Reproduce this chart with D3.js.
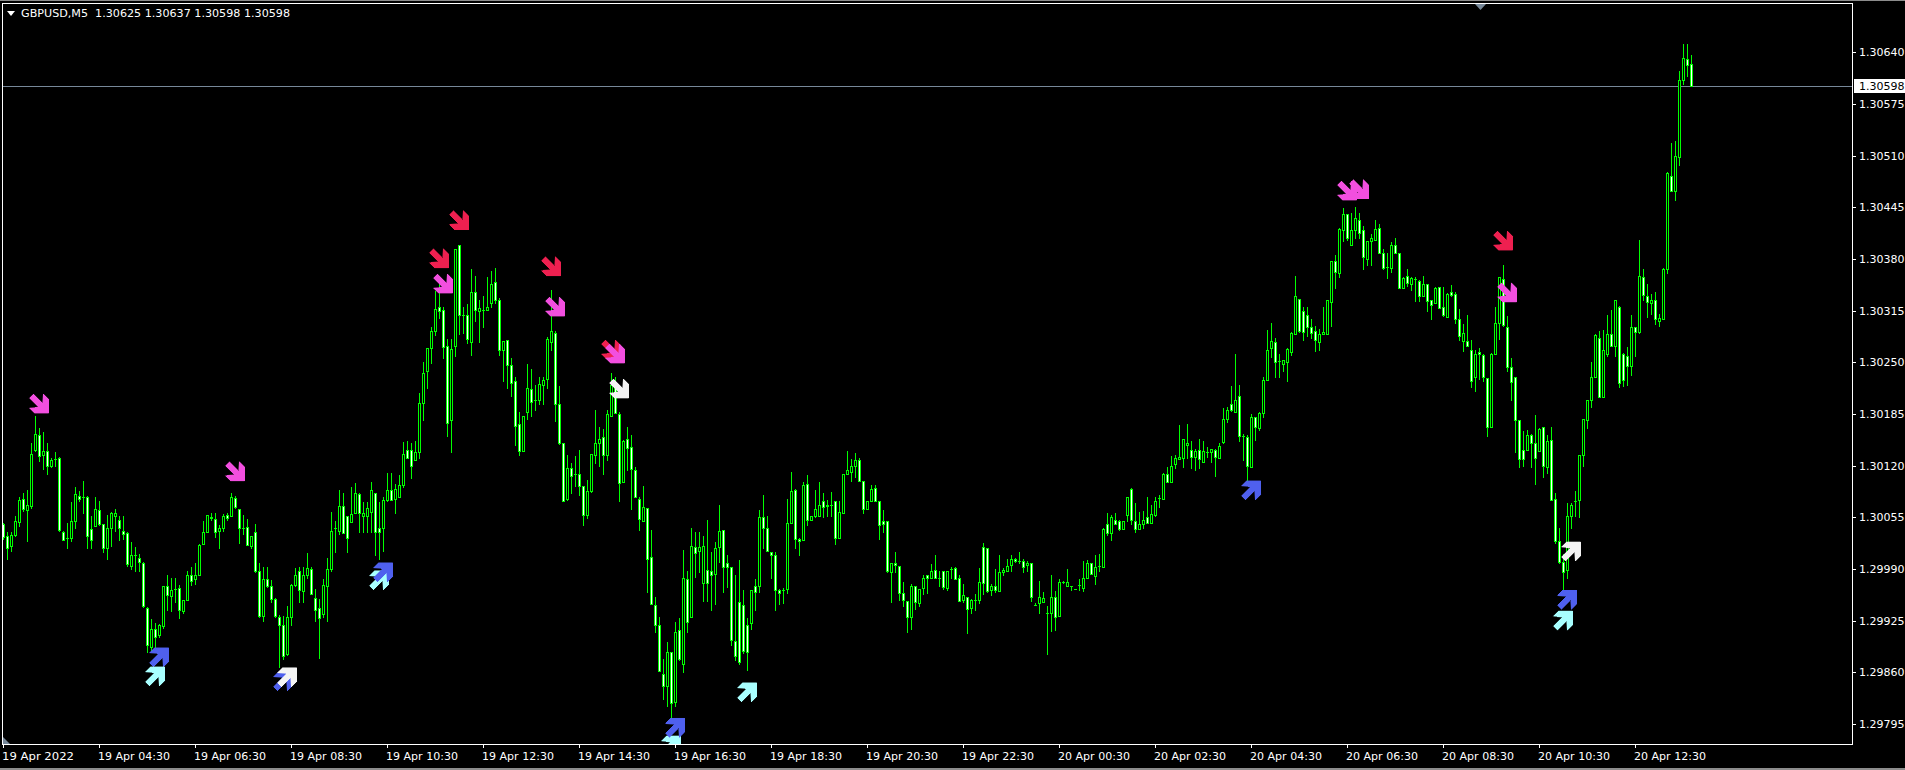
<!DOCTYPE html>
<html><head><meta charset="utf-8">
<script src="https://cdnjs.cloudflare.com/ajax/libs/d3/7.8.5/d3.min.js"></script>
<style>html,body{margin:0;padding:0;background:#000;overflow:hidden}svg{display:block}text{font-family:"DejaVu Sans",sans-serif;font-size:11px;fill:#fff}</style>
</head><body><svg id="c" width="1905" height="770"></svg>
<script>
// Prices are in 0.00001 units above basePrice (1.30000).
const basePrice = 130000;
const opens = [
46,31,19,33,49,78,64,69,140,159,
133,138,120,128,130,36,29,29,51,82,
81,81,40,44,64,46,17,41,57,52,
38,35,-6,8,4,-2,-59,-108,-85,-93,
-82,-32,-44,-35,-34,-63,-49,-17,-23,-17,
21,36,56,53,38,41,58,57,79,66,
42,43,19,36,-12,-69,-22,-31,-48,-70,
-80,-117,-70,-30,-12,-38,-18,-10,-47,-59,
-67,-31,-10,41,38,69,57,49,61,84,
57,57,62,86,41,41,77,90,78,81,
96,140,140,127,137,199,239,268,290,320,
316,271,178,270,398,310,310,276,338,314,
316,316,325,351,329,266,278,247,226,172,
139,188,217,202,202,221,229,276,287,198,
148,78,117,109,110,95,58,88,133,149,
156,133,183,219,185,100,153,143,114,78,
50,67,5,-55,-80,-142,-157,-115,-177,-87,
-130,-23,-70,18,13,-28,-11,-12,-16,18,
39,-3,-7,-100,-52,-55,-81,-78,-31,-31,
55,41,11,7,-36,-36,-35,48,89,28,
27,97,52,57,57,75,71,71,75,29,
60,110,112,120,127,101,65,75,92,75,
50,50,-14,-2,-6,-40,-50,-71,-31,-53,
-34,-18,-21,-11,-21,-13,-34,-10,-9,-21,
-49,-45,-59,-49,-49,18,16,-36,-31,-38,
-14,-13,-5,3,0,0,-5,-2,-55,-53,
-51,-65,-65,-45,-69,-26,-31,-31,-35,-30,
-34,-21,-3,-19,-6,-7,46,35,52,50,
40,58,91,50,40,47,55,48,58,79,
78,110,99,122,128,130,146,140,131,140,
125,137,137,140,130,150,179,197,187,208,
157,156,118,181,167,186,228,268,275,252,
248,250,263,285,330,315,310,294,289,276,
286,286,326,378,362,417,436,398,416,429,
416,380,403,404,419,388,370,369,397,387,
344,359,348,355,352,334,348,329,325,345,
320,307,338,336,305,277,277,266,232,263,
259,230,169,261,299,355,294,244,231,177,
140,140,159,148,138,168,118,152,78,25,
-1,-11,57,76,77,133,178,203,232,281,
206,261,286,271,320,260,258,245,294,288,
357,334,325,329,302,305,367,484,465,508,
605,632,625];
const closes = [
30,17,33,51,77,65,70,135,160,132,
138,119,127,128,39,27,29,51,84,78,
81,31,27,65,46,17,41,61,60,42,
34,-4,8,8,-1,-57,-105,-85,-96,-81,
-32,-43,-37,-35,-62,-49,-17,-25,-17,20,
36,58,54,36,41,57,54,81,68,41,
42,20,32,-12,-69,-22,-32,-48,-69,-80,
-119,-70,-30,-18,-37,-17,-9,-41,-62,-72,
-30,-10,38,41,69,35,29,59,86,61,
61,67,89,36,36,77,90,77,91,96,
135,129,119,137,199,237,268,290,317,315,
269,174,267,392,309,310,279,338,316,318,
316,320,349,329,266,277,247,224,170,139,
183,218,200,202,223,228,279,290,197,148,
76,117,107,109,95,58,88,135,149,154,
134,185,221,186,98,151,142,116,81,53,
68,2,-54,-81,-138,-157,-114,-179,-89,-123,
-21,-77,19,10,18,19,-28,-18,17,38,
-7,-8,-99,-120,-127,-113,-114,-36,-39,56,
41,13,7,-36,-40,-36,48,88,28,25,
96,52,57,65,71,68,69,71,29,62,
110,115,120,127,101,66,76,91,76,45,
46,-13,-2,-5,-40,-49,-70,-31,-52,-35,
-21,-21,-13,-21,-21,-33,-12,-10,-23,-50,
-43,-60,-49,-49,-26,-27,-38,-32,-36,-14,
-11,-6,2,0,0,-7,-2,-45,-55,-45,
-46,-65,-45,-70,-26,-26,-26,-31,-35,-30,
-21,-2,-16,-7,-6,40,35,56,47,40,
50,81,52,40,47,52,48,59,76,79,
110,99,120,129,131,153,149,131,139,128,
139,137,141,131,145,179,190,190,203,157,
157,120,181,169,186,228,266,277,250,252,
253,267,287,334,289,288,294,287,278,286,
288,328,378,364,418,437,406,417,431,413,
382,403,406,418,388,369,370,397,387,343,
356,350,356,355,333,348,327,322,344,318,
309,336,335,304,283,287,270,226,261,260,
232,169,261,299,357,297,244,225,178,128,
128,159,149,130,166,120,151,77,25,-1,
-14,57,70,76,134,179,202,232,284,206,
266,286,271,328,224,228,245,295,288,358,
335,326,329,305,306,368,488,466,510,605,
633,624,598];
const highs = [
48,36,36,57,80,86,90,148,182,167,
162,148,130,137,131,38,48,74,93,88,
101,82,57,80,76,47,58,62,65,57,
57,36,24,18,9,-1,-58,-73,-78,-79,
-31,-18,-21,-21,-30,-49,-13,-8,-2,21,
51,58,61,60,45,59,61,85,82,66,
58,53,32,46,-3,-7,-8,-24,-47,-68,
-69,-56,-29,-9,-8,-8,10,-7,-35,-48,
-23,4,62,51,89,85,57,93,98,86,
74,74,99,86,74,80,111,111,97,108,
150,151,149,151,211,250,268,294,340,349,
320,279,279,392,398,319,323,367,358,329,
334,357,365,369,331,277,278,255,232,188,
183,248,241,222,232,232,282,341,290,220,
148,133,123,132,140,95,102,135,190,169,
166,190,237,231,188,152,169,158,118,80,
94,67,39,-45,-70,-123,-102,-115,-77,-72,
14,-12,42,37,37,32,52,11,24,71,
39,8,-7,-17,1,-37,-72,-36,-22,64,
83,57,12,12,-35,-34,78,112,91,29,
99,108,57,89,99,85,77,87,76,75,
110,139,128,136,129,101,76,96,96,75,
64,50,-2,12,-6,-26,-50,-29,-31,-35,
-17,-17,-4,8,-12,-13,-12,-7,-8,-17,
-29,-45,-48,-41,-9,23,16,-29,-10,7,
-9,2,8,4,11,2,0,-2,-53,-25,
-39,-57,-17,-38,-22,-25,-10,-31,-35,-23,
0,1,-3,8,9,41,60,58,61,52,
51,81,92,73,62,63,81,71,81,83,
111,118,132,133,171,153,173,151,141,153,
151,143,141,141,149,193,194,220,261,222,
160,159,185,181,187,232,291,299,281,260,
253,268,288,359,330,319,320,305,296,292,
320,329,378,385,419,444,437,438,445,438,
422,403,412,429,424,393,388,401,407,387,
357,367,357,357,353,358,349,329,345,345,
345,337,347,339,317,298,310,278,266,268,
260,230,262,320,357,373,308,256,231,178,
164,165,160,184,167,168,159,169,86,41,
9,73,73,88,134,179,202,250,285,290,
291,309,316,329,321,262,269,310,295,404,
367,348,336,338,311,369,489,526,529,617,
650,651,637];
const lows = [
28,2,13,32,44,63,25,67,139,126,
116,110,118,119,38,26,17,25,42,75,
61,17,17,44,45,12,2,19,38,26,
28,-6,-10,-12,-12,-58,-115,-112,-109,-95,
-84,-62,-63,-52,-72,-65,-49,-30,-29,-18,
21,36,52,30,16,38,52,57,67,23,
34,20,17,-14,-71,-75,-33,-52,-70,-133,
-123,-118,-80,-32,-52,-52,-21,-42,-76,-122,
-70,-75,-12,11,34,35,12,49,61,36,
36,36,36,7,2,13,76,77,60,80,
93,129,104,127,130,177,218,249,284,306,
255,157,137,258,285,287,274,259,302,276,
294,316,320,325,259,227,218,208,146,134,
138,179,183,190,197,197,218,266,176,147,
76,77,86,94,83,45,54,87,123,120,
109,127,183,186,76,99,114,66,80,39,
50,-39,-54,-89,-138,-173,-182,-198,-182,-125,
-140,-89,-70,-20,-14,-50,-50,-62,-54,-1,
-39,-33,-105,-125,-130,-116,-137,-85,-61,-39,
16,13,-21,-61,-54,-53,-40,48,16,7,
27,45,52,55,57,56,57,57,21,29,
60,110,101,106,101,60,65,75,76,28,
36,-14,-52,-14,-49,-57,-89,-85,-60,-56,
-41,-40,-21,-21,-32,-35,-36,-21,-23,-50,
-51,-90,-65,-61,-53,-42,-39,-43,-39,-38,
-17,-13,-12,-1,-2,-14,-12,-50,-55,-65,
-51,-117,-88,-87,-69,-27,-31,-36,-35,-36,
-38,-21,-16,-29,-13,-7,33,27,47,39,
40,50,46,37,40,41,48,48,57,68,
78,99,99,117,128,118,130,117,115,117,
125,131,125,107,130,148,175,189,187,151,
127,100,118,152,165,181,228,257,232,232,
239,226,259,285,288,278,283,280,264,266,
286,286,296,343,357,402,404,398,406,406,
367,372,373,404,388,368,356,364,387,343,
344,346,341,327,327,334,315,304,324,318,
308,307,334,299,278,264,270,219,214,229,
226,157,169,261,279,296,239,202,137,118,
120,140,118,97,138,106,111,77,23,-2,
-39,-21,41,57,55,120,167,194,232,206,
206,258,271,258,219,220,222,234,258,287,
329,307,311,298,296,304,362,466,454,498,
600,610,598];

// Signal arrows: bar position, price at arrow centre, colour name, direction.
const arrowBars =   [9,58,114,109,110,137,138,152,153,154,336,339,375,376,39,38,70,71,94,95,167,168,186,312,392,391,390];
const arrowPrices = [198,113,429,381,349,371,320,266,261,217,466,468,403,338,-121,-145,-151,-146,-24,-14,-232,-210,-165,89,12,-49,-75];
const arrowKinds =  ["pink","pink","red","red","pink","red","pink","red","pink","white","pink","pink","red","pink","blue","cyan","blue","white","cyan","blue","cyan","blue","cyan","blue","white","blue","cyan"];
const arrowDirs =   ["d","d","d","d","d","d","d","d","d","d","d","d","d","d","u","u","u","u","u","u","u","u","u","u","u","u","u"];
const arrowColors = {pink:"#f24fdf",red:"#ee2050",white:"#f4f4f4",blue:"#4f60ee",cyan:"#a8ffff"};

const priceTicks = [1.30640,1.30575,1.30510,1.30445,1.30380,1.30315,1.30250,1.30185,1.30120,1.30055,1.29990,1.29925,1.29860,1.29795];
const timeLabels = ["19 Apr 2022","19 Apr 04:30","19 Apr 06:30","19 Apr 08:30","19 Apr 10:30","19 Apr 12:30","19 Apr 14:30","19 Apr 16:30","19 Apr 18:30","19 Apr 20:30","19 Apr 22:30","20 Apr 00:30","20 Apr 02:30","20 Apr 04:30","20 Apr 06:30","20 Apr 08:30","20 Apr 10:30","20 Apr 12:30"];
const timeLabelBars = [0,24,48,72,96,120,144,168,192,216,240,264,288,312,336,360,384,408];
const headerText = "GBPUSD,M5  1.30625 1.30637 1.30598 1.30598";
const lastPrice = 1.30598;

const green = "#00ff00", frame = "#ffffff", lineGrey = "#778899";
const L = 2, T = 3, R = 1852, B = 744;
const candles = opens.map((o,i)=>({i,o,c:closes[i],h:highs[i],l:lows[i]}));
const x = d3.scaleLinear().domain([0,422]).range([3,1691]);
const y = d3.scaleLinear().domain([1.29795,1.30640]).range([724,52.3]);
const yp = v => Math.round(y((basePrice+v)/100000));

const svg = d3.select("#c");
svg.append("rect").attr("width",1905).attr("height",770).attr("fill","#000");
svg.append("rect").attr("x",0).attr("y",0).attr("width",1905).attr("height",1).attr("fill","#8c8c8c");
svg.append("rect").attr("x",0).attr("y",768).attr("width",1905).attr("height",2).attr("fill","#8c8c8c");
svg.append("defs").append("clipPath").attr("id","plot").append("rect").attr("x",L+1).attr("y",T+1).attr("width",R-L-1).attr("height",B-T-1);

const plot = svg.append("g").attr("clip-path","url(#plot)").attr("shape-rendering","crispEdges");
// current price line
plot.append("rect").attr("x",L).attr("y",Math.round(y(lastPrice))).attr("width",R-L).attr("height",1).attr("fill",lineGrey);
// wicks
plot.selectAll(".w").data(candles).join("rect").attr("class","w")
  .attr("x",d=>x(d.i)).attr("width",1).attr("y",d=>yp(d.h)).attr("height",d=>Math.max(1,yp(d.l)-yp(d.h)+1)).attr("fill",green);
// body outlines
plot.selectAll(".b").data(candles).join("rect").attr("class","b")
  .attr("x",d=>x(d.i)-1).attr("width",3).attr("y",d=>yp(Math.max(d.o,d.c))).attr("height",d=>yp(Math.min(d.o,d.c))-yp(Math.max(d.o,d.c))+1).attr("fill",green);
// body fills
plot.selectAll(".f").data(candles.filter(d=>yp(Math.min(d.o,d.c))-yp(Math.max(d.o,d.c))>=2)).join("rect").attr("class","f")
  .attr("x",d=>x(d.i)).attr("width",1).attr("y",d=>yp(Math.max(d.o,d.c))+1).attr("height",d=>yp(Math.min(d.o,d.c))-yp(Math.max(d.o,d.c))-1)
  .attr("fill",d=>d.c>=d.o?"#000":"#fff");

// arrows
const arrowShape = [[0,4],[4,0],[13,9],[14,0],[19,5],[19,19],[5,19],[0,14],[9,13]];
const arrowPath = dir => d3.line()(arrowShape.map(([a,b])=>[a-9.5,(dir==="d"?b:19-b)-9.5]))+"Z";
const arrows = arrowBars.map((b,i)=>({b,p:arrowPrices[i],k:arrowKinds[i],dir:arrowDirs[i]}));
svg.append("g").attr("clip-path","url(#plot)").attr("shape-rendering","crispEdges").selectAll("path").data(arrows).join("path")
  .attr("d",d=>arrowPath(d.dir)).attr("fill",d=>arrowColors[d.k]).attr("stroke",d=>arrowColors[d.k]).attr("stroke-width",0.6).attr("stroke-linejoin","round")
  .attr("transform",d=>`translate(${x(d.b)},${y((basePrice+d.p)/100000)})`);

// frame
const fr = svg.append("g").attr("shape-rendering","crispEdges").attr("fill",frame);
fr.append("rect").attr("x",L).attr("y",T).attr("width",R-L+1).attr("height",1);
fr.append("rect").attr("x",L).attr("y",T).attr("width",1).attr("height",B-T+1);
fr.append("rect").attr("x",R).attr("y",T).attr("width",1).attr("height",B-T+1);
fr.append("rect").attr("x",L).attr("y",B).attr("width",R-L+1).attr("height",1);

// axes
fr.selectAll(".yt").data(priceTicks).join("rect").attr("class","yt").attr("x",R+1).attr("width",3).attr("height",1).attr("y",d=>Math.round(y(d)));
fr.selectAll(".xt").data(timeLabelBars).join("rect").attr("class","xt").attr("y",B+1).attr("width",1).attr("height",3).attr("x",d=>x(d));
svg.selectAll(".yl").data(priceTicks).join("text").attr("class","yl").attr("x",1859).attr("y",d=>Math.round(y(d))+4).text(d=>d.toFixed(5));
svg.selectAll(".xl").data(timeLabels).join("text").attr("class","xl").attr("x",(d,i)=>x(timeLabelBars[i])-1).attr("y",760).attr("textLength",72).attr("lengthAdjust","spacingAndGlyphs").text(d=>d);

// current price label
const ly = Math.round(y(lastPrice));
svg.append("rect").attr("x",1854).attr("y",ly-7).attr("width",51).attr("height",14).attr("fill","#fff");
svg.append("text").attr("x",1859).attr("y",ly+4).style("fill","#000").text(lastPrice.toFixed(5));

// header
svg.append("path").attr("d",d3.line()([[7,11],[15,11],[11,16]])+"Z").attr("fill","#fff");
svg.append("text").attr("x",21).attr("y",17).attr("textLength",269).attr("lengthAdjust","spacingAndGlyphs").attr("xml:space","preserve").style("white-space","pre").text(headerText);
// shift markers
svg.append("path").attr("d",d3.line()([[1475,4],[1486,4],[1480.5,10]])+"Z").attr("fill",lineGrey);
svg.append("path").attr("d",d3.line()([[3,737],[3,744],[10,744]])+"Z").attr("fill",lineGrey);
</script></body></html>
